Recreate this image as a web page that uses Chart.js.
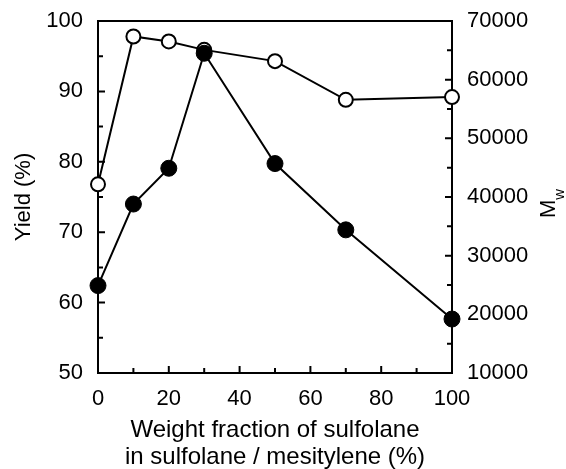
<!DOCTYPE html>
<html>
<head>
<meta charset="utf-8">
<script src="https://cdn.jsdelivr.net/npm/chart.js@4.4.1/dist/chart.umd.min.js"></script>
<style>
  html, body { margin: 0; padding: 0; background: #fff; }
  #wrap { width: 566px; height: 469px; }
</style>
</head>
<body>
<div id="wrap"><canvas id="chart" width="566" height="469"></canvas></div>
<script>
// Weight fraction of sulfolane (%)
const fractions = [0, 10, 20, 30, 50, 70, 100];
// Yield (%) - open circles, left axis
const yieldValues = [76.8, 97.8, 97.1, 95.9, 94.3, 88.8, 89.2];
// Mw - filled circles, right axis
const mwValues = [24900, 38800, 44900, 64500, 45700, 34400, 19200];

// tick values
const xMajor = [0, 20, 40, 60, 80, 100];
const xMinor = [10, 30, 50, 70, 90];
const yieldMajor = [50, 60, 70, 80, 90, 100];
const yieldMinor = [55, 65, 75, 85, 95];
const mwMajor = [10000, 20000, 30000, 40000, 50000, 60000, 70000];
const mwMinor = [15000, 25000, 35000, 45000, 55000, 65000];

const FONT = '"Liberation Sans", Arial, Helvetica, sans-serif';

// inward tick marks, top border and the M_w title
const frameTicks = {
    id: 'frameTicks',
    afterDraw(chart) {
        const ctx = chart.ctx;
        const a = chart.chartArea;
        const sx = chart.scales.x, sy = chart.scales.y, sy2 = chart.scales.y2;
        ctx.save();
        ctx.strokeStyle = '#000';
        ctx.lineWidth = 2;
        ctx.beginPath();
        ctx.moveTo(a.left - 1, a.top);
        ctx.lineTo(a.right + 1, a.top);
        const tick = (vals, scale, len, side) => {
            vals.forEach(v => {
                const p = scale.getPixelForValue(v);
                if (side === 'bottom') { ctx.moveTo(p, a.bottom); ctx.lineTo(p, a.bottom - len); }
                if (side === 'left') { ctx.moveTo(a.left, p); ctx.lineTo(a.left + len, p); }
                if (side === 'right') { ctx.moveTo(a.right, p); ctx.lineTo(a.right - len, p); }
            });
        };
        tick(xMajor, sx, 7, 'bottom');
        tick(xMinor, sx, 5, 'bottom');
        tick(yieldMajor, sy, 7, 'left');
        tick(yieldMinor, sy, 5, 'left');
        tick(mwMajor, sy2, 7, 'right');
        tick(mwMinor, sy2, 5, 'right');
        ctx.stroke();

        // right axis title: M with subscript w
        const cx = a.right + 103;
        const cy = (a.top + a.bottom) / 2 + 21;
        ctx.translate(cx, cy);
        ctx.rotate(-Math.PI / 2);
        ctx.fillStyle = '#000';
        ctx.textAlign = 'left';
        ctx.textBaseline = 'alphabetic';
        ctx.font = '22px ' + FONT;
        ctx.fillText('M', 0, 0);
        const mw = ctx.measureText('M').width;
        ctx.font = '15px ' + FONT;
        ctx.fillText('w', mw, 9);
        ctx.restore();
    }
};

const noPad = s => { s.paddingTop = 0; s.paddingBottom = 0; s.paddingLeft = 0; s.paddingRight = 0; };

const ctx = document.getElementById('chart').getContext('2d');
const chart = new Chart(ctx, {
    type: 'line',
    data: {
        datasets: [{
            label: 'Mw',
            data: fractions.map((x, i) => ({ x: x, y: mwValues[i] })),
            yAxisID: 'y2',
            borderColor: '#000',
            borderWidth: 2,
            backgroundColor: '#000',
            pointBackgroundColor: '#000',
            pointBorderColor: '#000',
            pointRadius: 8,
            pointBorderWidth: 1,
            tension: 0,
            clip: false
        }, {
            label: 'Yield',
            data: fractions.map((x, i) => ({ x: x, y: yieldValues[i] })),
            yAxisID: 'y',
            borderColor: '#000',
            borderWidth: 2,
            pointBackgroundColor: '#fff',
            pointBorderColor: '#000',
            pointRadius: 7,
            pointBorderWidth: 2,
            tension: 0,
            clip: false
        }]
    },
    options: {
        responsive: false,
        animation: false,
        events: [],
        layout: { padding: { top: 21, left: 0, right: 0, bottom: 0 } },
        plugins: {
            legend: { display: false },
            tooltip: { enabled: false }
        },
        scales: {
            x: {
                type: 'linear',
                min: 0,
                max: 100,
                afterFit: s => { s.height = 96; noPad(s); },
                afterBuildTicks: s => { s.ticks = xMajor.map(v => ({ value: v })); },
                grid: { display: false, drawTicks: false },
                border: { display: true, color: '#000', width: 2 },
                ticks: { color: '#000', padding: 13, maxRotation: 0, font: { family: FONT, size: 22 } },
                title: {
                    display: true,
                    text: ['Weight fraction of sulfolane', 'in sulfolane / mesitylene (%)'],
                    color: '#000',
                    font: { family: FONT, size: 24, lineHeight: 1.13 },
                    padding: { top: 0, bottom: -2 }
                }
            },
            y: {
                type: 'linear',
                position: 'left',
                min: 50,
                max: 100,
                afterFit: s => { s.width = 98; noPad(s); },
                afterBuildTicks: s => { s.ticks = yieldMajor.map(v => ({ value: v })); },
                grid: { display: false, drawTicks: false },
                border: { display: true, color: '#000', width: 2 },
                ticks: { color: '#000', padding: 15, font: { family: FONT, size: 22 } },
                title: {
                    display: true,
                    text: 'Yield (%)',
                    color: '#000',
                    font: { family: FONT, size: 22 },
                    padding: { top: 11, bottom: 0 }
                }
            },
            y2: {
                type: 'linear',
                position: 'right',
                min: 10000,
                max: 70000,
                afterFit: s => { s.width = 114; noPad(s); },
                afterBuildTicks: s => { s.ticks = mwMajor.map(v => ({ value: v })); },
                grid: { display: false, drawTicks: false },
                border: { display: true, color: '#000', width: 2 },
                ticks: { color: '#000', padding: 15, font: { family: FONT, size: 22 }, callback: v => String(v) }
            }
        }
    },
    plugins: [frameTicks]
});
</script>
</body>
</html>
